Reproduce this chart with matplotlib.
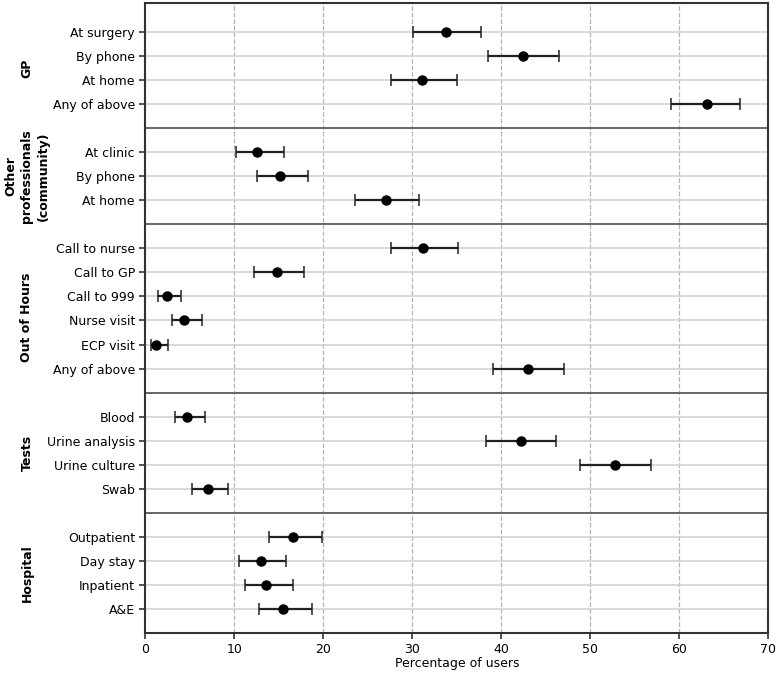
import matplotlib
matplotlib.use("Agg")
import matplotlib.pyplot as plt
import numpy as np

groups = ["GP", "Other\nprofessionals\n(community)", "Out of Hours", "Tests", "Hospital"]
group_items = [
    ["At surgery", "By phone", "At home", "Any of above"],
    ["At clinic", "By phone", "At home"],
    ["Call to nurse", "Call to GP", "Call to 999", "Nurse visit", "ECP visit", "Any of above"],
    ["Blood", "Urine analysis", "Urine culture", "Swab"],
    ["Outpatient", "Day stay", "Inpatient", "A&E"],
]
estimates = [
    [33.8, 42.4, 31.1, 63.1],
    [12.6, 15.1, 27.0],
    [31.2, 14.8, 2.4, 4.4, 1.2, 43.0],
    [4.7, 42.2, 52.8, 7.0],
    [16.6, 13.0, 13.6, 15.5],
]
lower = [
    [30.1, 38.5, 27.6, 59.1],
    [10.2, 12.5, 23.6],
    [27.6, 12.2, 1.4, 3.0, 0.6, 39.1],
    [3.3, 38.3, 48.8, 5.2],
    [13.9, 10.5, 11.2, 12.8],
]
upper = [
    [37.7, 46.5, 35.0, 66.8],
    [15.6, 18.3, 30.7],
    [35.1, 17.8, 4.0, 6.4, 2.5, 47.0],
    [6.7, 46.2, 56.8, 9.3],
    [19.9, 15.8, 16.6, 18.7],
]
xticks = [0, 10, 20, 30, 40, 50, 60, 70]

fig = plt.figure(figsize=(7.78, 6.73), dpi=100)
ax = fig.add_axes([0.1868, 0.0594, 0.8007, 0.936])

ypos_all, labels_all = [], []
sep_pos = []
group_centers = []
pos = 0
for gi, items in enumerate(group_items):
    ys = list(range(pos, pos + len(items)))
    for y in ys:
        ax.axhline(y, color="#d3d3d3", lw=1.2, zorder=1)
    est = np.array(estimates[gi])
    lo = np.array(lower[gi])
    hi = np.array(upper[gi])
    ax.errorbar(est, ys, xerr=[est - lo, hi - est], fmt="o", color="black",
                ms=6.5, ecolor="#222222", elinewidth=1.6, capsize=4, capthick=1.1, zorder=3)
    ypos_all += ys
    labels_all += items
    group_centers.append((ys[0] + ys[-1]) / 2)
    pos += len(items)
    if gi < len(group_items) - 1:
        sep_pos.append(pos)
        pos += 1

for s in sep_pos:
    ax.axhline(s, color="#666666", lw=1.4, zorder=2)

for x in xticks[1:-1]:
    ax.axvline(x, color="#b5b5b5", lw=0.9, ls="--", zorder=0)

ax.set_yticks(ypos_all)
ax.set_yticklabels(labels_all, fontsize=9)
ax.set_xticks(xticks)
ax.set_xticklabels([str(t) for t in xticks], fontsize=9)
ax.set_xlim(0, 70)
ax.set_ylim(25, -1.2)
ax.set_xlabel("Percentage of users", fontsize=9, labelpad=1)
ax.tick_params(axis="y", length=4, width=1.2, colors="#333333", labelcolor="black")
ax.tick_params(axis="x", length=4, width=1.2, colors="#333333", labelcolor="black", pad=3)
for sp in ax.spines.values():
    sp.set_color("#333333")
    sp.set_linewidth(1.5)

label_shift = [0.0, 0.0, 0.35, 0.0, 0.0]
for g, c, d in zip(groups, group_centers, label_shift):
    ax.text(-0.19, c + d, g, transform=ax.get_yaxis_transform(), rotation=90,
            ha="center", va="center", fontsize=9, fontweight="bold",
            multialignment="center", linespacing=1.35)

fig.savefig("out.png", dpi=100)
